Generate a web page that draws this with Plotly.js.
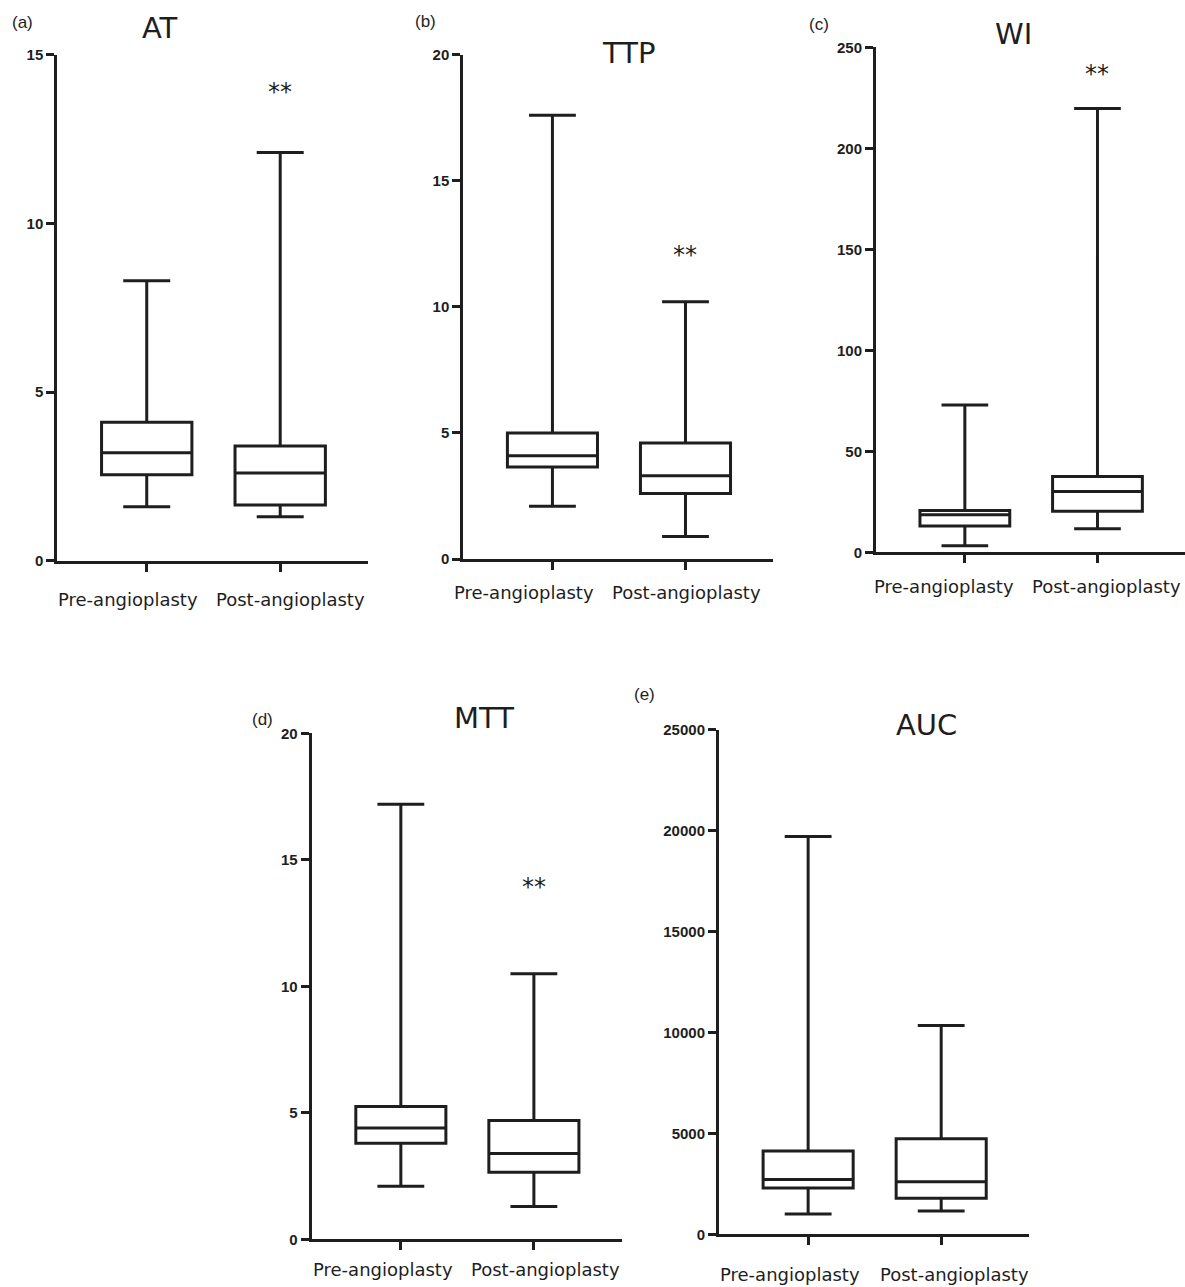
<!DOCTYPE html>
<html>
<head>
<meta charset="utf-8">
<script src="https://cdn.plot.ly/plotly-3.0.1.min.js"></script>
<style>
  html, body { margin: 0; padding: 0; background: #fff; }
  #chart { width: 1185px; height: 1287px; }
</style>
</head>
<body>
<div id="chart"></div>
<script>
// ---------- DATA ----------
const categories = ["Pre-angioplasty", "Post-angioplasty"];
const panelTitles = ["AT", "TTP", "WI", "MTT", "AUC"];
const panelLetters = ["(a)", "(b)", "(c)", "(d)", "(e)"];
// box statistics ordered: [lower whisker, Q1, median, Q3, upper whisker]
const AT_pre   = [1.6, 2.55, 3.2, 4.1, 8.3];
const AT_post  = [1.3, 1.65, 2.6, 3.4, 12.1];
const TTP_pre  = [2.1, 3.65, 4.1, 5.0, 17.6];
const TTP_post = [0.9, 2.6, 3.3, 4.6, 10.2];
const WI_pre   = [3.3, 13.1, 18.6, 20.8, 73];
const WI_post  = [11.7, 20.4, 30.1, 37.6, 219.7];
const MTT_pre  = [2.1, 3.8, 4.4, 5.25, 17.2];
const MTT_post = [1.3, 2.65, 3.4, 4.7, 10.5];
const AUC_pre  = [1000, 2290, 2720, 4130, 19700];
const AUC_post = [1150, 1780, 2600, 4735, 10340];
// y-axis maxima and tick steps
const yMax  = [15, 20, 250, 20, 25000];
const yStep = [5, 5, 50, 5, 5000];
// significance marks above post-angioplasty box
const sigText = ["**", "**", "**", "**", ""];
const sigY    = [14.0, 12.2, 239, 14.1, null];

// ---------- LAYOUT GEOMETRY (pixels) ----------
const W = 1185, H = 1287;
const panelsPx = [
  {x: [57.3, 368.3], y: [54.6, 560.7], title: [160, 28], letter: [22.5, 22], lab: [-18.5, 10], labY: -26},
  {x: [463.3, 773.3], y: [54.6, 559.1], title: [628, 53], letter: [425, 21], lab: [-28, 1], labY: -21},
  {x: [876, 1185], y: [47.4, 552.4], title: [1013, 34], letter: [819, 24], lab: [-20.5, 9], labY: -22},
  {x: [311.7, 621.7], y: [733.4, 1239.4], title: [484, 718], letter: [262.5, 719], lab: [-18, 12], labY: -18},
  {x: [719, 1029], y: [729.6, 1234.3], title: [926, 725], letter: [644.5, 694], lab: [-18, 13], labY: -28}
];

const groups = [[AT_pre, AT_post], [TTP_pre, TTP_post], [WI_pre, WI_post], [MTT_pre, MTT_post], [AUC_pre, AUC_post]];

const traces = [];
const layout = {
  width: W, height: H,
  margin: {l: 0, r: 0, t: 0, b: 0},
  paper_bgcolor: "#fff", plot_bgcolor: "rgba(0,0,0,0)",
  showlegend: false,
  hovermode: false,
  annotations: []
};

const ink = "#1e1e1e";
const labelFont = {family: "DejaVu Sans, Verdana, sans-serif", size: 18, color: ink};

groups.forEach((g, i) => {
  const n = i + 1;
  const xa = n === 1 ? "x" : "x" + n;
  const ya = n === 1 ? "y" : "y" + n;
  const p = panelsPx[i];
  traces.push({
    type: "box",
    x: categories,
    lowerfence: [g[0][0], g[1][0]],
    q1: [g[0][1], g[1][1]],
    median: [g[0][2], g[1][2]],
    q3: [g[0][3], g[1][3]],
    upperfence: [g[0][4], g[1][4]],
    boxpoints: false,
    width: 0.677,
    whiskerwidth: 0.52,
    fillcolor: "rgba(255,255,255,0)",
    line: {color: ink, width: 3},
    xaxis: xa, yaxis: ya,
    hoverinfo: "skip"
  });
  const xKey = n === 1 ? "xaxis" : "xaxis" + n;
  const yKey = n === 1 ? "yaxis" : "yaxis" + n;
  layout[xKey] = {
    domain: [p.x[0] / W, Math.min(1, p.x[1] / W)],
    anchor: ya,
    type: "category",
    categoryorder: "array", categoryarray: categories,
    range: [-0.67, 1.66],
    showgrid: false, zeroline: false,
    showline: true, linecolor: ink, linewidth: 3,
    ticks: "outside", ticklen: 8, tickwidth: 3, tickcolor: ink,
    showticklabels: false,
    fixedrange: true
  };
  layout[yKey] = {
    domain: [1 - p.y[1] / H, 1 - p.y[0] / H],
    anchor: xa,
    range: [0, yMax[i]],
    tick0: 0, dtick: yStep[i],
    tickformat: "d",
    showgrid: false, zeroline: false,
    showline: true, linecolor: ink, linewidth: 3,
    ticks: "outside", ticklen: 8, tickwidth: 3, tickcolor: ink,
    tickfont: {family: "Liberation Sans, Arial, sans-serif", size: 15, color: ink, weight: "bold"},
    ticklabelstandoff: 0,
    fixedrange: true
  };
  // category labels (offset as in the reference)
  categories.forEach((c, k) => {
    layout.annotations.push({
      xref: xa, yref: ya + " domain",
      x: c, y: 0, yanchor: "top", xanchor: "center",
      xshift: p.lab[k], yshift: p.labY,
      text: c, showarrow: false, font: labelFont
    });
  });
  // panel title
  layout.annotations.push({
    xref: "paper", yref: "paper",
    x: p.title[0] / W, y: 1 - p.title[1] / H,
    xanchor: "center", yanchor: "middle",
    text: panelTitles[i], showarrow: false,
    font: {family: "DejaVu Sans, Verdana, sans-serif", size: 29, color: ink}
  });
  // panel letter
  layout.annotations.push({
    xref: "paper", yref: "paper",
    x: p.letter[0] / W, y: 1 - p.letter[1] / H,
    xanchor: "center", yanchor: "middle",
    text: panelLetters[i], showarrow: false,
    font: {family: "Liberation Sans, Arial, sans-serif", size: 17, color: ink}
  });
  // significance
  if (sigText[i]) {
    layout.annotations.push({
      xref: xa, yref: ya,
      x: categories[1], y: sigY[i],
      xanchor: "center", yanchor: "middle", yshift: -4,
      text: sigText[i], showarrow: false,
      font: {family: "DejaVu Sans, Verdana, sans-serif", size: 24, color: ink}
    });
  }
});

Plotly.newPlot("chart", traces, layout, {displayModeBar: false, staticPlot: true});
</script>
</body>
</html>
